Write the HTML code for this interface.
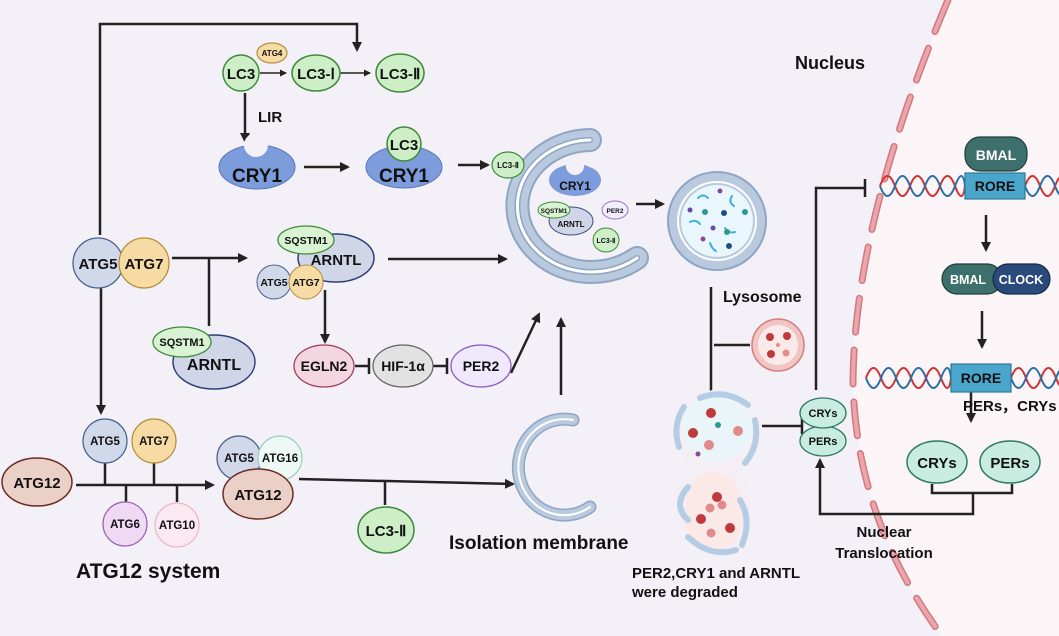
<!DOCTYPE html>
<html><head><meta charset="utf-8"><style>
html,body{margin:0;padding:0;background:#f4f0f7}
svg{display:block}
text{font-family:"Liberation Sans",sans-serif;font-weight:bold;fill:#111}
</style></head><body>
<svg width="1059" height="636" viewBox="0 0 1059 636" xmlns="http://www.w3.org/2000/svg">
<defs>
<marker id="a" markerWidth="10" markerHeight="10" refX="8" refY="5" orient="auto" markerUnits="userSpaceOnUse"><path d="M0,0 L10,5 L0,10 z" fill="#222"/></marker>
<marker id="s" markerWidth="7" markerHeight="7" refX="6" refY="3.5" orient="auto" markerUnits="userSpaceOnUse"><path d="M0,0 L7,3.5 L0,7 z" fill="#222"/></marker>
</defs>
<rect width="1059" height="636" fill="#f4f0f7"/>
<path d="M948 0 Q855 220 853 380 Q855 520 945 640 L1059 640 L1059 0 Z" fill="#fcf5f8"/>
<path d="M948 0 Q855 220 853 380 Q855 520 945 640" fill="none" stroke="#d27880" stroke-width="7" stroke-dasharray="34 18" stroke-linecap="round"/>
<path d="M948 0 Q855 220 853 380 Q855 520 945 640" fill="none" stroke="#eaa6ab" stroke-width="4" stroke-dasharray="34 18" stroke-linecap="round"/>

<g fill="none" stroke="#222" stroke-width="2.5">
<path d="M100 235 V24 H357 V50" marker-end="url(#a)"/>
<path d="M260 73 H286" stroke-width="1.5" marker-end="url(#s)"/>
<path d="M340 73 H370" stroke-width="1.5" marker-end="url(#s)"/>
<path d="M245 93 V141" marker-end="url(#a)"/>
<path d="M304 167 H348" marker-end="url(#a)"/>
<path d="M458 165 H488" marker-end="url(#a)"/>
<path d="M172 258 H246" marker-end="url(#a)"/>
<path d="M209 258 V326"/>
<path d="M325 290 V342" marker-end="url(#a)"/>
<path d="M388 259 H506" marker-end="url(#a)"/>
<path d="M101 288 V413" marker-end="url(#a)"/>
<path d="M355 366 H369 M369 358 V374"/>
<path d="M433 366 H447 M447 358 V374"/>
<path d="M511 373 L539 314" marker-end="url(#a)"/>
<path d="M561 395 V319" marker-end="url(#a)"/>
<path d="M76 485 H213" marker-end="url(#a)"/>
<path d="M105 463 V485 M154 463 V485 M126 485 V502 M177 485 V502"/>
<path d="M299 479 L513 484" marker-end="url(#a)"/>
<path d="M385 481 V505"/>
<path d="M636 204 H663" marker-end="url(#a)"/>
<path d="M711 287 V400" marker-end="url(#a)"/>
<path d="M714 345 H750"/>
<path d="M762 426 H802 M802 418 V434"/>
<path d="M816 390 V188 H865 M865 179 V197"/>
<path d="M986 215 V250" marker-end="url(#a)"/>
<path d="M982 311 V347" marker-end="url(#a)"/>
<path d="M971 389 V421" marker-end="url(#a)"/>
<path d="M932 484 V493 H1012 V484 M973 493 V514 H820 V460" marker-end="url(#a)"/>
</g>

<!-- LC3 row -->
<ellipse cx="272" cy="53" rx="15" ry="10" fill="#f6dca4" stroke="#b58e3c" stroke-width="1.2"/>
<text x="272" y="56" font-size="8" text-anchor="middle">ATG4</text>
<circle cx="241" cy="73" r="18" fill="#cdeec7" stroke="#3d8b3a" stroke-width="1.5"/>
<text x="241" y="79" font-size="15" text-anchor="middle">LC3</text>
<ellipse cx="316" cy="73" rx="24" ry="18" fill="#cdeec7" stroke="#3d8b3a" stroke-width="1.5"/>
<text x="316" y="79" font-size="15" text-anchor="middle">LC3-Ⅰ</text>
<ellipse cx="400" cy="73" rx="24" ry="19" fill="#cdeec7" stroke="#3d8b3a" stroke-width="1.5"/>
<text x="400" y="79" font-size="15" text-anchor="middle">LC3-Ⅱ</text>
<text x="258" y="122" font-size="15">LIR</text>

<ellipse cx="257" cy="167" rx="38" ry="22" fill="#7c9cdc" stroke="#5a78b8" stroke-width="1"/>
<circle cx="256" cy="145" r="12" fill="#f4f0f7"/>
<text x="257" y="182" font-size="19" text-anchor="middle">CRY1</text>
<ellipse cx="404" cy="167" rx="38" ry="21" fill="#7c9cdc" stroke="#5a78b8" stroke-width="1"/>
<circle cx="404" cy="144" r="17" fill="#cdeec7" stroke="#3d8b3a" stroke-width="1.5"/>
<text x="404" y="150" font-size="15" text-anchor="middle">LC3</text>
<text x="404" y="182" font-size="19" text-anchor="middle">CRY1</text>

<!-- phagophore -->
<path d="M590 140 A74 66 0 1 0 637 258" fill="none" stroke="#8fa5c4" stroke-width="24" stroke-linecap="round"/>
<path d="M590 140 A74 66 0 1 0 637 258" fill="none" stroke="#b9c9de" stroke-width="20" stroke-linecap="round"/>
<path d="M590 140 A74 66 0 1 0 637 258" fill="none" stroke="#8fa5c4" stroke-width="6" stroke-linecap="round"/>
<path d="M590 140 A74 66 0 1 0 637 258" fill="none" stroke="#ffffff" stroke-width="3" stroke-linecap="round"/>
<ellipse cx="508" cy="165" rx="16" ry="13" fill="#cdeec7" stroke="#3d8b3a" stroke-width="1.2"/>
<text x="508" y="168" font-size="8" text-anchor="middle">LC3-Ⅱ</text>
<ellipse cx="575" cy="180" rx="26" ry="16" fill="#7c9cdc"/>
<circle cx="575" cy="166" r="9" fill="#f4f0f7"/>
<text x="575" y="190" font-size="12" text-anchor="middle">CRY1</text>
<ellipse cx="571" cy="221" rx="22" ry="14" fill="#d0d6e8" stroke="#3b4f86" stroke-width="1"/>
<text x="571" y="227" font-size="8" text-anchor="middle">ARNTL</text>
<ellipse cx="554" cy="210" rx="16" ry="8" fill="#d8f2d2" stroke="#3d8b3a" stroke-width="1"/>
<text x="554" y="213" font-size="6.5" text-anchor="middle">SQSTM1</text>
<ellipse cx="615" cy="210" rx="13" ry="9" fill="#f3eefb" stroke="#9a70c8" stroke-width="1"/>
<text x="615" y="213" font-size="6.5" text-anchor="middle">PER2</text>
<ellipse cx="606" cy="240" rx="13" ry="12" fill="#cdeec7" stroke="#3d8b3a" stroke-width="1"/>
<text x="606" y="243" font-size="7" text-anchor="middle">LC3-Ⅱ</text>

<!-- autophagosome -->
<circle cx="717" cy="221" r="50" fill="#8fa5c4"/>
<circle cx="717" cy="221" r="48" fill="#b9c9de"/>
<circle cx="717" cy="221" r="40" fill="#ffffff"/>
<circle cx="717" cy="221" r="38" fill="#b9c9de"/>
<circle cx="717" cy="221" r="36" fill="#e9f6fb"/>
<g fill="none" stroke="#3ab0da" stroke-width="2" stroke-linecap="round">
<path d="M698 198 q5 -5 10 0"/><path d="M732 196 q-4 6 2 10"/><path d="M690 222 q6 -3 10 2"/><path d="M725 228 q4 6 10 4"/><path d="M710 243 q2 6 6 8"/>
</g>
<g><circle cx="720" cy="191" r="2.5" fill="#8a4a9a"/><circle cx="690" cy="210" r="2.5" fill="#6a4aa0"/><circle cx="705" cy="212" r="3" fill="#2a9a90"/><circle cx="724" cy="213" r="3" fill="#1e4f8a"/><circle cx="745" cy="212" r="3" fill="#2a9a90"/><circle cx="713" cy="228" r="2.5" fill="#6a4aa0"/><circle cx="727" cy="232" r="3" fill="#2a9a90"/><circle cx="703" cy="239" r="2.5" fill="#8a4a9a"/><circle cx="729" cy="246" r="3" fill="#1e4f8a"/></g>

<text x="723" y="302" font-size="16">Lysosome</text>
<circle cx="778" cy="345" r="26" fill="#f0c6c4" stroke="#d77b7b" stroke-width="1.5"/>
<circle cx="778" cy="345" r="20" fill="#fbeaea"/>
<circle cx="770" cy="337" r="4" fill="#c0393b"/><circle cx="787" cy="336" r="4" fill="#c0393b"/><circle cx="771" cy="354" r="4" fill="#c0393b"/><circle cx="786" cy="353" r="3.5" fill="#e48c8c"/><circle cx="778" cy="345" r="2" fill="#e48c8c"/>

<!-- autolysosome -->
<path d="M717 390 C760 390 765 450 735 468 C760 490 755 553 715 553 C675 553 672 495 695 468 C665 450 672 390 717 390 Z" fill="#f5eef4"/>
<circle cx="717" cy="427" r="35" fill="#eaf5fa"/>
<ellipse cx="714" cy="512" rx="30" ry="40" fill="#fbe9e8"/>
<g fill="none" stroke="#b5cde4" stroke-width="6" stroke-linecap="round">
<path d="M700 398 Q725 388 748 405"/><path d="M755 420 Q760 445 745 463"/><path d="M684 407 Q672 425 679 447"/>
<path d="M688 487 Q672 505 688 520"/><path d="M740 500 Q752 520 742 545"/><path d="M688 537 Q710 558 736 550"/>
</g>
<g fill="#c0393b"><circle cx="711" cy="413" r="5"/><circle cx="693" cy="433" r="5"/><circle cx="717" cy="497" r="5"/><circle cx="701" cy="519" r="5"/><circle cx="730" cy="528" r="5"/></g>
<g fill="#e08a8a"><circle cx="738" cy="431" r="5"/><circle cx="709" cy="445" r="5"/><circle cx="710" cy="508" r="4.5"/><circle cx="722" cy="505" r="4.5"/><circle cx="711" cy="533" r="4.5"/></g>
<circle cx="718" cy="425" r="3" fill="#2a9a90"/><circle cx="698" cy="454" r="2.5" fill="#8a4a9a"/>
<text x="632" y="578" font-size="15">PER2,CRY1 and ARNTL</text>
<text x="632" y="597" font-size="15">were degraded</text>

<ellipse cx="823" cy="441" rx="23" ry="15" fill="#c8ece0" stroke="#2e7a66" stroke-width="1.3"/>
<text x="823" y="445" font-size="11" text-anchor="middle">PERs</text>
<ellipse cx="823" cy="413" rx="23" ry="15" fill="#c8ece0" stroke="#2e7a66" stroke-width="1.3"/>
<text x="823" y="417" font-size="11" text-anchor="middle">CRYs</text>

<!-- nucleus -->
<text x="795" y="69" font-size="18">Nucleus</text>
<g fill="none" stroke-width="2">
<path d="M880 186 Q887.5 166 895 186 T910 186 T925 186 T940 186 T955 186 T965 186" stroke="#d03232"/>
<path d="M880 186 Q887.5 206 895 186 T910 186 T925 186 T940 186 T955 186 T965 186" stroke="#2a6fa8"/>
<path d="M1025 186 Q1032.5 166 1040 186 T1055 186 T1070 186" stroke="#d03232"/>
<path d="M1025 186 Q1032.5 206 1040 186 T1055 186 T1070 186" stroke="#2a6fa8"/>
<path d="M866 378 Q873.5 358 881 378 T896 378 T911 378 T926 378 T941 378 T951 378" stroke="#d03232"/>
<path d="M866 378 Q873.5 398 881 378 T896 378 T911 378 T926 378 T941 378 T951 378" stroke="#2a6fa8"/>
<path d="M1011 378 Q1018.5 358 1026 378 T1041 378 T1056 378 T1071 378" stroke="#d03232"/>
<path d="M1011 378 Q1018.5 398 1026 378 T1041 378 T1056 378 T1071 378" stroke="#2a6fa8"/>
</g>
<rect x="965" y="137" width="62" height="34" rx="15" fill="#3d706c" stroke="#1f3e3c" stroke-width="1.2"/>
<text x="996" y="160" font-size="14" text-anchor="middle" style="fill:#fff">BMAL</text>
<rect x="965" y="173" width="60" height="26" fill="#4ba6cb" stroke="#2a7a9a" stroke-width="1.2"/>
<text x="995" y="191" font-size="14" text-anchor="middle">RORE</text>
<rect x="942" y="264" width="60" height="30" rx="15" fill="#3d706c" stroke="#1f3e3c" stroke-width="1.2"/>
<rect x="993" y="264" width="57" height="30" rx="15" fill="#2a4a7c" stroke="#162a4a" stroke-width="1.2"/>
<text x="968" y="284" font-size="12.5" text-anchor="middle" style="fill:#fff">BMAL</text>
<text x="1021" y="284" font-size="12.5" text-anchor="middle" style="fill:#fff">CLOCK</text>
<rect x="951" y="364" width="60" height="28" fill="#4ba6cb" stroke="#2a7a9a" stroke-width="1.2"/>
<text x="981" y="383" font-size="14" text-anchor="middle">RORE</text>
<text x="963" y="411" font-size="15">PERs，CRYs</text>
<ellipse cx="937" cy="462" rx="30" ry="21" fill="#c8ece0" stroke="#2e7a66" stroke-width="1.5"/>
<text x="937" y="468" font-size="15" text-anchor="middle">CRYs</text>
<ellipse cx="1010" cy="462" rx="30" ry="21" fill="#c8ece0" stroke="#2e7a66" stroke-width="1.5"/>
<text x="1010" y="468" font-size="15" text-anchor="middle">PERs</text>
<text x="884" y="537" font-size="15" text-anchor="middle">Nuclear</text>
<text x="884" y="558" font-size="15" text-anchor="middle">Translocation</text>

<!-- ATG5/ATG7 -->
<circle cx="98" cy="263" r="25" fill="#d0d8ea" stroke="#47618e" stroke-width="1.3"/>
<circle cx="144" cy="263" r="25" fill="#f6dca4" stroke="#b58e3c" stroke-width="1.3"/>
<text x="98" y="269" font-size="15" text-anchor="middle">ATG5</text>
<text x="144" y="269" font-size="15" text-anchor="middle">ATG7</text>

<ellipse cx="336" cy="258" rx="38" ry="24" fill="#d0d6e8" stroke="#2c3f7a" stroke-width="1.5"/>
<text x="336" y="265" font-size="15" text-anchor="middle">ARNTL</text>
<ellipse cx="306" cy="240" rx="28" ry="14" fill="#d8f2d2" stroke="#3d8b3a" stroke-width="1.3"/>
<text x="306" y="244" font-size="10.5" text-anchor="middle">SQSTM1</text>
<circle cx="274" cy="282" r="17" fill="#d0d8ea" stroke="#47618e" stroke-width="1"/>
<circle cx="306" cy="282" r="17" fill="#f6dca4" stroke="#b58e3c" stroke-width="1"/>
<text x="274" y="286" font-size="10.5" text-anchor="middle">ATG5</text>
<text x="306" y="286" font-size="10.5" text-anchor="middle">ATG7</text>

<ellipse cx="214" cy="362" rx="41" ry="27" fill="#d0d6e8" stroke="#2c3f7a" stroke-width="1.5"/>
<text x="214" y="370" font-size="16" text-anchor="middle">ARNTL</text>
<ellipse cx="182" cy="342" rx="29" ry="15" fill="#d8f2d2" stroke="#3d8b3a" stroke-width="1.3"/>
<text x="182" y="346" font-size="11" text-anchor="middle">SQSTM1</text>

<ellipse cx="324" cy="366" rx="30" ry="21" fill="#f3d6e0" stroke="#9c4060" stroke-width="1.3"/>
<text x="324" y="371" font-size="14" text-anchor="middle">EGLN2</text>
<ellipse cx="403" cy="366" rx="30" ry="21" fill="#e2e2e2" stroke="#666" stroke-width="1.3"/>
<text x="403" y="371" font-size="14" text-anchor="middle">HIF-1α</text>
<ellipse cx="481" cy="366" rx="30" ry="21" fill="#f0e8fb" stroke="#8a5cc0" stroke-width="1.3"/>
<text x="481" y="371" font-size="14" text-anchor="middle">PER2</text>

<!-- ATG12 system -->
<ellipse cx="37" cy="482" rx="35" ry="24" fill="#ebd0c8" stroke="#6b2b25" stroke-width="1.5"/>
<text x="37" y="488" font-size="15" text-anchor="middle">ATG12</text>
<circle cx="105" cy="441" r="22" fill="#d0d8ea" stroke="#47618e" stroke-width="1.2"/>
<text x="105" y="445" font-size="11.5" text-anchor="middle">ATG5</text>
<circle cx="154" cy="441" r="22" fill="#f6dca4" stroke="#b58e3c" stroke-width="1.2"/>
<text x="154" y="445" font-size="11.5" text-anchor="middle">ATG7</text>
<circle cx="125" cy="524" r="22" fill="#efd9f4" stroke="#9a60b0" stroke-width="1.2"/>
<text x="125" y="528" font-size="11.5" text-anchor="middle">ATG6</text>
<circle cx="177" cy="525" r="22" fill="#fbe8f0" stroke="#eab8c8" stroke-width="1.2"/>
<text x="177" y="529" font-size="11.5" text-anchor="middle">ATG10</text>

<circle cx="239" cy="458" r="22" fill="#d0d8ea" stroke="#47618e" stroke-width="1.2"/>
<circle cx="280" cy="458" r="22" fill="#eef9f6" stroke="#9ad0c0" stroke-width="1.2"/>
<text x="239" y="462" font-size="11.5" text-anchor="middle">ATG5</text>
<text x="280" y="462" font-size="11.5" text-anchor="middle">ATG16</text>
<ellipse cx="258" cy="494" rx="35" ry="25" fill="#ebd0c8" stroke="#6b2b25" stroke-width="1.5"/>
<text x="258" y="500" font-size="15" text-anchor="middle">ATG12</text>
<ellipse cx="386" cy="530" rx="28" ry="23" fill="#cdeec7" stroke="#3d8b3a" stroke-width="1.5"/>
<text x="386" y="536" font-size="15" text-anchor="middle">LC3-Ⅱ</text>
<text x="76" y="578" font-size="21">ATG12 system</text>

<!-- isolation membrane -->
<path d="M573 420 A46 48 0 1 0 590 507" fill="none" stroke="#8fa5c4" stroke-width="13" stroke-linecap="round"/>
<path d="M573 420 A46 48 0 1 0 590 507" fill="none" stroke="#b9c9de" stroke-width="10" stroke-linecap="round"/>
<path d="M573 420 A46 48 0 1 0 590 507" fill="none" stroke="#fff" stroke-width="2" stroke-linecap="round"/>
<text x="449" y="549" font-size="19">Isolation membrane</text>
</svg>
</body></html>
